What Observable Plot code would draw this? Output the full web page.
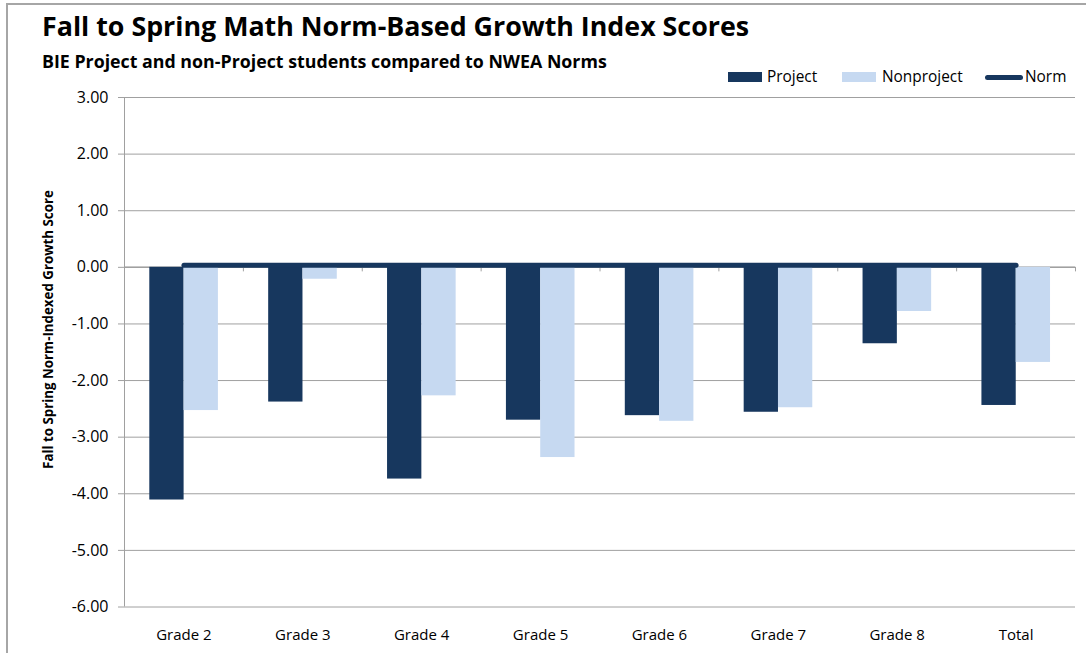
<!DOCTYPE html>
<html>
<head>
<meta charset="utf-8">
<script src="https://cdn.jsdelivr.net/npm/d3@7"></script>
<script src="https://cdn.jsdelivr.net/npm/@observablehq/plot@0.6"></script>
<style>
  html, body { margin: 0; padding: 0; background: #fff; }
  #wrap { position: relative; width: 1086px; height: 653px; overflow: hidden; font-family: "Open Sans", Lato, sans-serif; color: #000; }
  #frame { position: absolute; left: 6px; top: 3px; width: 1200px; height: 800px; border-left: 2px solid #a6a6a6; border-top: 2px solid #a6a6a6; }
  #title { position: absolute; left: 42px; top: 8px; font-size: 26.8px; font-weight: 700; line-height: 36px; white-space: nowrap; }
  #subtitle { position: absolute; left: 42px; top: 49px; font-size: 17.8px; font-weight: 700; line-height: 24px; white-space: nowrap; }
  .lg { position: absolute; top: 67px; font-size: 15.4px; line-height: 20px; white-space: nowrap; }
  .sw { position: absolute; }
  #chart { position: absolute; left: 0; top: 80px; }
</style>
</head>
<body>
<div id="wrap">
  <div id="frame"></div>
  <div id="title"></div>
  <div id="subtitle"></div>
  <div id="legend"></div>
  <div id="chart"></div>
</div>
<script>
const titleText = "Fall to Spring Math Norm-Based Growth Index Scores";
const subtitleText = "BIE Project and non-Project students compared to NWEA Norms";
const yLabel = "Fall to Spring Norm-Indexed Growth Score";
const grades = ["Grade 2", "Grade 3", "Grade 4", "Grade 5", "Grade 6", "Grade 7", "Grade 8", "Total"];
const project = [-4.11, -2.38, -3.74, -2.70, -2.62, -2.56, -1.35, -2.44];
const nonproject = [-2.53, -0.21, -2.27, -3.36, -2.72, -2.48, -0.78, -1.68];
const norm = [0, 0, 0, 0, 0, 0, 0, 0];
const yTicks = [3, 2, 1, 0, -1, -2, -3, -4, -5, -6];
const seriesNames = ["Project", "Nonproject", "Norm"];
const colors = ["#17375e", "#c6d9f1", "#17375e"];

document.getElementById("title").textContent = titleText;
document.getElementById("subtitle").textContent = subtitleText;

// legend
const legend = document.getElementById("legend");
const lgItems = [
  {name: seriesNames[0], sx: 728, tx: 767, kind: "box", color: colors[0]},
  {name: seriesNames[1], sx: 842, tx: 882, kind: "box", color: colors[1]},
  {name: seriesNames[2], sx: 985, tx: 1025, kind: "line", color: colors[2]}
];
for (const it of lgItems) {
  const sw = document.createElement("div");
  sw.className = "sw";
  if (it.kind === "box") {
    Object.assign(sw.style, {left: it.sx + "px", top: "72px", width: "34px", height: "10px", background: it.color});
  } else {
    Object.assign(sw.style, {left: it.sx + "px", top: "74.5px", width: "38px", height: "5px", background: it.color, borderRadius: "3px"});
  }
  legend.appendChild(sw);
  const t = document.createElement("div");
  t.className = "lg";
  t.style.left = it.tx + "px";
  t.textContent = it.name;
  legend.appendChild(t);
}

const W = 1086, H = 573;
const mL = 124, mR = 11, mT = 17, mB = 46.5;
const bw = (W - mL - mR) / grades.length;
const barW = 34.3;
const gap = 25.3;

const projData = grades.map((g, i) => ({g, v: project[i]}));
const nonData = grades.map((g, i) => ({g, v: nonproject[i]}));
const normData = grades.map((g, i) => ({g, v: norm[i]}));

const gray = "#a0a0a0";

const chart = Plot.plot({
  width: W,
  height: H,
  marginLeft: mL,
  marginRight: mR,
  marginTop: mT,
  marginBottom: mB,
  style: {fontFamily: "'Open Sans', Lato, sans-serif", fontSize: "14px", color: "#000", background: "transparent"},
  x: {type: "band", domain: grades, padding: 0, round: false, axis: null},
  y: {domain: [-6, 3], axis: null},
  marks: [
    Plot.gridY(yTicks, {stroke: gray, strokeOpacity: 1, strokeWidth: 1}),
    Plot.axisY(yTicks, {tickFormat: d => d.toFixed(2), tickSize: 6, tickPadding: 10, stroke: gray, strokeOpacity: 1, fontSize: 16, label: null}),
    Plot.ruleX([grades[0]], {x: d => d, dx: -bw / 2, stroke: gray, strokeWidth: 1}),
    Plot.ruleY([0], {stroke: gray, strokeWidth: 1.5}),
    Plot.ruleX(grades, {x: d => d, dx: bw / 2, y1: 0, y2: -0.08, stroke: gray, strokeWidth: 1}),
    Plot.barY(projData, {x: "g", y: "v", fill: colors[0], insetLeft: gap, insetRight: bw - gap - barW}),
    Plot.barY(nonData, {x: "g", y: "v", fill: colors[1], insetLeft: gap + barW, insetRight: bw - gap - 2 * barW}),
    Plot.lineY(normData, {x: "g", y: "v", stroke: colors[2], strokeWidth: 5, strokeLinecap: "round", dy: -2}),
    Plot.axisX({tickSize: 0, tickPadding: 22, fontSize: 15, label: null}),
    Plot.text([yLabel], {frameAnchor: "left", text: d => d, rotate: -90, dx: -76, dy: -22.7, fontWeight: "bold", fontSize: 13.3, textAnchor: "middle", lineAnchor: "middle"})
  ]
});
document.getElementById("chart").appendChild(chart);
</script>
</body>
</html>
